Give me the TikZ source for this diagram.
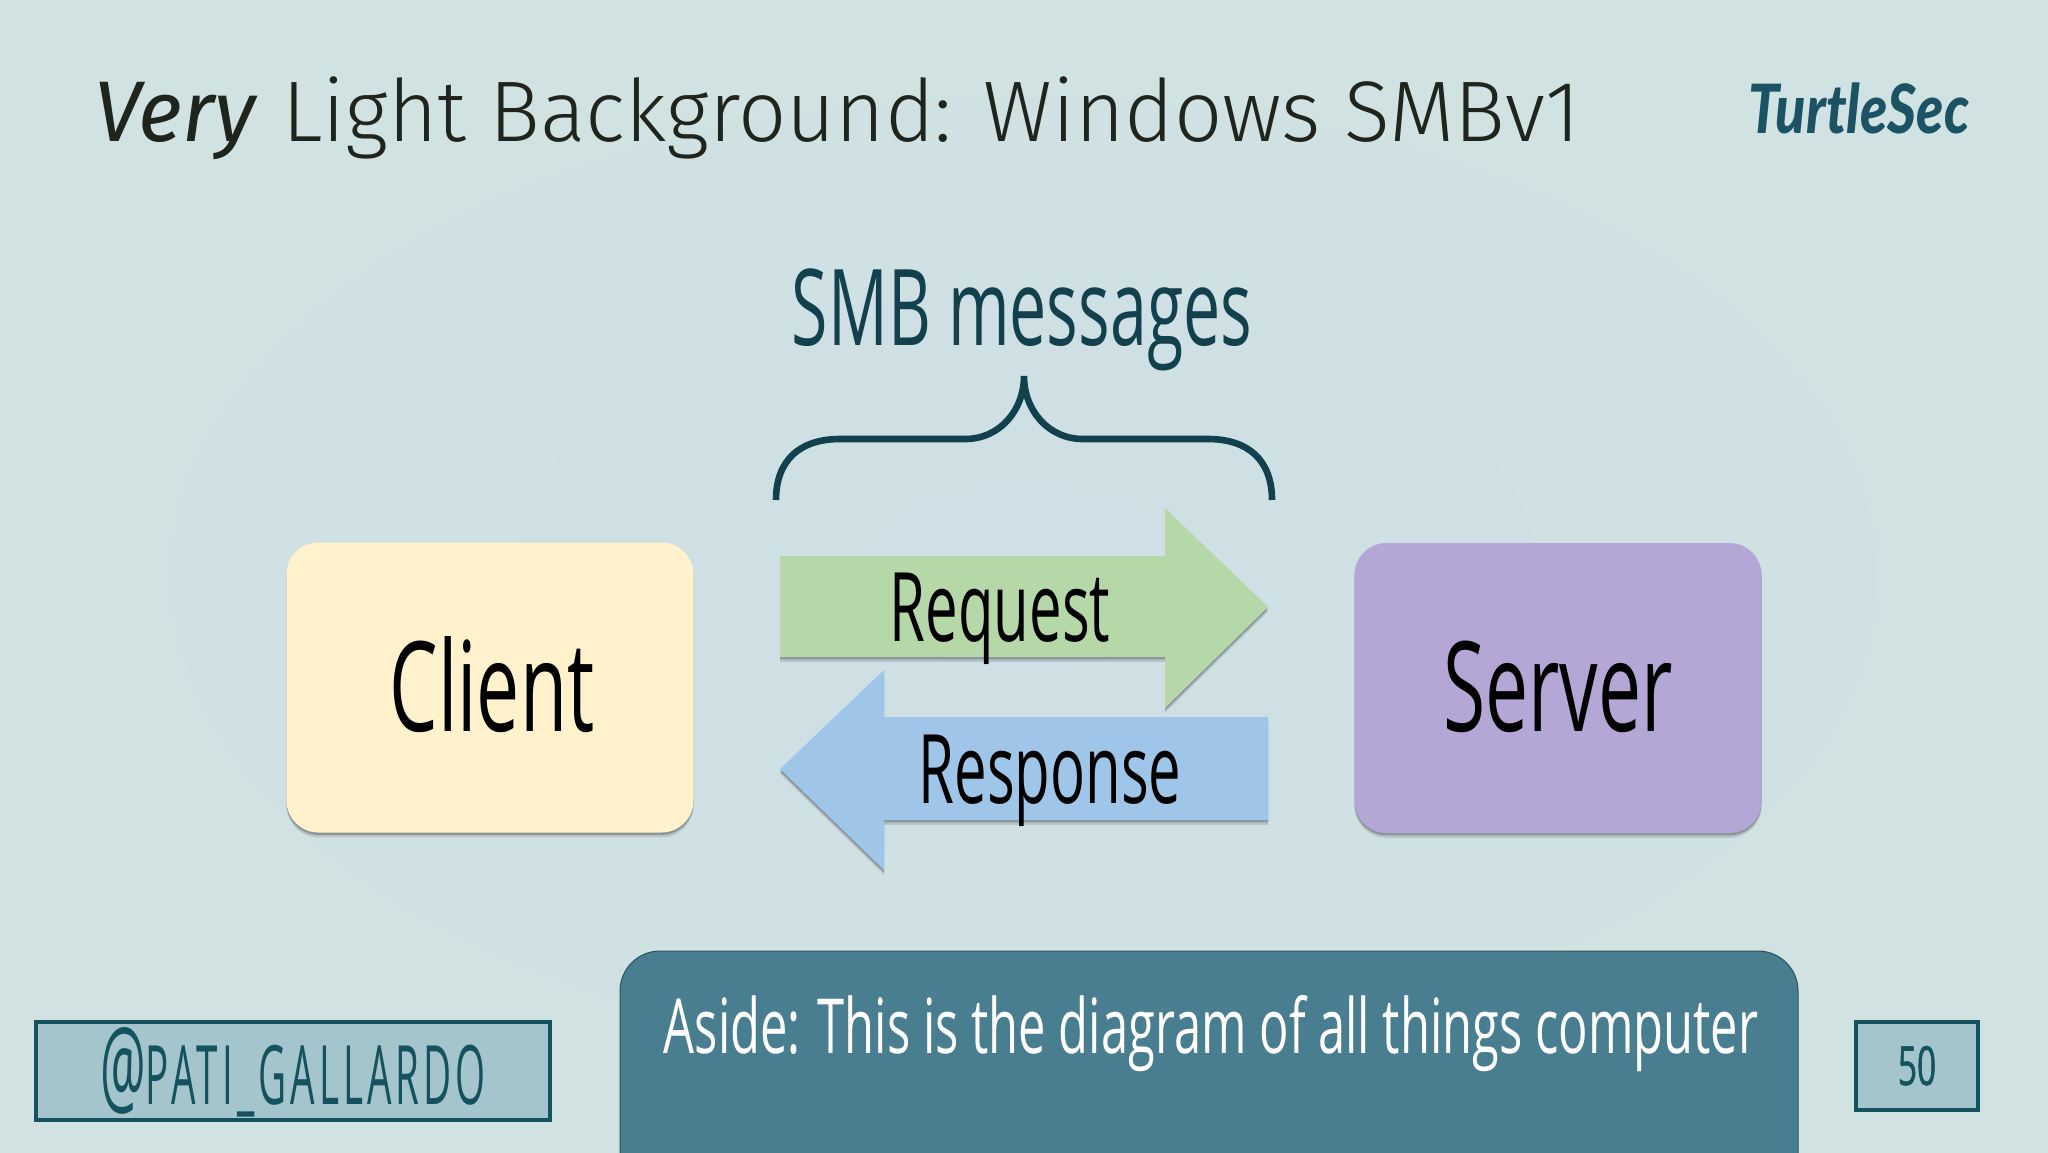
\documentclass[tikz,border=0pt]{standalone}
\usepackage{fontspec}
\setmainfont{Fira Sans Light}[ItalicFont={Fira Sans Italic},FakeStretch=0.985]
\newfontfamily\condreg{Open Sans}[FakeStretch=0.625]
\newfontfamily\boxfont{Open Sans}[FakeStretch=0.615]
\newfontfamily\arrowfont{Open Sans}[FakeStretch=0.605]
\newfontfamily\asidefont{Open Sans}[FakeStretch=0.643]
\newfontfamily\handlefont{Open Sans}[FakeStretch=0.47,LetterSpace=5]
\newfontfamily\pagefont{Open Sans}[FakeStretch=0.62,FakeBold=1]
\newfontfamily\logofont{Lato Black Italic}[FakeStretch=0.82]
\definecolor{bgmid}{HTML}{CEDFE6}
\definecolor{bgout}{HTML}{D1E2E3}
\definecolor{ink}{HTML}{12404C}
\definecolor{teal}{HTML}{14525F}
\definecolor{asidefill}{HTML}{487E8F}
\definecolor{tagfill}{HTML}{A4C5CB}
\definecolor{logoink}{HTML}{1B5264}
\definecolor{clientfill}{HTML}{FFF2CC}
\definecolor{serverfill}{HTML}{B4A7D6}
\definecolor{reqfill}{HTML}{B6D7A8}
\definecolor{respfill}{HTML}{9FC5E8}
\definecolor{titleink}{HTML}{1F241C}
\tikzset{
  softshadow/.style={
    preaction={fill=black,opacity=.12,transform canvas={yshift=-2.4pt}},
    preaction={fill=black,opacity=.24,transform canvas={yshift=-1.2pt}}},
  mainbox/.style={rectangle,rounded corners=16pt,minimum width=203.5pt,minimum height=145pt,inner sep=0pt,softshadow},
  tagbox/.style={rectangle,draw=teal,line width=2pt,fill=tagfill,inner sep=0pt},
  boxtext/.style={anchor=base,text=black,font=\boxfont\fontsize{62.5}{62.5}\selectfont,inner sep=0pt},
  arrowtext/.style={anchor=base,text=black,font=\arrowfont\fontsize{48}{48}\selectfont,inner sep=0pt},
}
\begin{document}
\begin{tikzpicture}[x=0.5pt,y=-0.5pt]
\useasboundingbox (0,0) rectangle (2048,1152);
\path[inner color=bgmid,outer color=bgout] (0,0) rectangle (2048,1152);
% title
\node (title) [anchor=base west,inner sep=0pt,text=titleink,font=\fontsize{43}{43}\selectfont] at (94,141) {\textit{Very} Light Background: Windows SMBv1};
\node (logo) [anchor=base,inner sep=0pt,text=logoink,font=\logofont\fontsize{34}{34}\selectfont] at (1859,133) {TurtleSec};
% brace
\node (smb) [anchor=base,inner sep=0pt,text=ink,font=\condreg\fontsize{53}{53}\selectfont] at (1022,345) {SMB messages};
\coordinate (bl) at (776,500);
\coordinate (bt) at (1024,376);
\coordinate (br) at (1272,500);
\draw[ink,line width=3.3pt] (bl) .. controls (776,460) and (800,439) .. (840,439) -- (965,439)
  .. controls (1000,439) and (1024,410) .. (bt)
  .. controls (1024,410) and (1048,439) .. (1083,439) -- (1208,439)
  .. controls (1248,439) and (1272,460) .. (br);
% boxes
\node (client) [mainbox,fill=clientfill] at (490,687.5) {};
\node (server) [mainbox,fill=serverfill] at (1558,688) {};
\node (clienttext) [boxtext] at (492,731) {Client};
\node (servertext) [boxtext] at (1558,731) {Server};
% arrows
\path[fill=reqfill,softshadow] (780,556) -- (1165,556) -- (1165,508) -- (1268,607) -- (1165,708) -- (1165,657) -- (780,657) -- cycle;
\node (reqtext) [arrowtext] at (1000,641) {Request};
\path[fill=respfill,softshadow] (1268,717) -- (884,717) -- (884,670) -- (780,769) -- (884,870) -- (884,820) -- (1268,820) -- cycle;
\node (resptext) [arrowtext] at (1050,803) {Response};
% footer
\path[fill=asidefill,draw=black!35!asidefill,line width=.5pt,rounded corners=20pt] (620,1200) -- (620,951) -- (1798,951) -- (1798,1200) -- cycle;
\node (aside) [anchor=base,inner sep=0pt,text=white,font=\asidefont\fontsize{38}{38}\selectfont] at (1211,1053) {Aside: This is the diagram of all things computer};
\node (handlebox) [tagbox,minimum width=257pt,minimum height=49pt] at (292.5,1070.5) {};
\node (handle) [anchor=base,inner sep=0pt,text=teal,font=\handlefont\fontsize{41}{41}\selectfont] at (293,1104) {{\fontsize{54}{54}\selectfont @}PATI\_GALLARDO};
\node (pagebox) [tagbox,minimum width=61pt,minimum height=44pt] at (1916.5,1065.5) {};
\node (page) [anchor=base,inner sep=0pt,text=teal,font=\pagefont\fontsize{27}{27}\selectfont] at (1917,1085) {50};
\end{tikzpicture}
\end{document}
